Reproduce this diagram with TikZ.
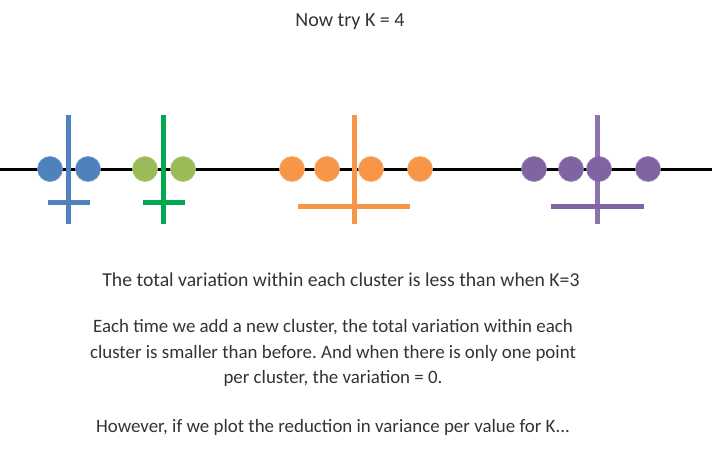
\documentclass[tikz,border=0pt]{standalone}
\usepackage{fontspec}
\setmainfont{Carlito}
\frenchspacing
\definecolor{kblue}{RGB}{79,129,189}
\definecolor{kolive}{RGB}{155,187,89}
\definecolor{kgreen}{RGB}{0,168,80}
\definecolor{korange}{RGB}{247,150,70}
\definecolor{kpurple}{RGB}{128,100,162}
\tikzset{
  pt/.style={circle,fill=#1,draw=#1!80!white,line width=0.6pt,minimum size=25pt,inner sep=0pt},
  bar/.style={draw=#1,line width=5pt},
  txt/.style={font=\fontsize{18.9}{25.5}\selectfont,text=black!80,align=center}
}
\begin{document}
\begin{tikzpicture}[x=1pt,y=-1pt]
	\useasboundingbox (0,0) rectangle (719,463);
	\node [txt,font=\fontsize{20}{24}\selectfont] (title) at (350,22) {Now try K = 4};
	\draw [line width=3pt] (0,169) -- (712,169);
	% blue cluster
	\node [pt=kblue] (b1) at (50,169) {};
	\node [pt=kblue] (b2) at (88,169) {};
	\draw [bar=kblue] (68,115) -- (68,224);
	\draw [bar=kblue] (48,202) -- (90,202);
	% green cluster
	\node [pt=kolive] (g1) at (145,169) {};
	\node [pt=kolive] (g2) at (183,169) {};
	\draw [bar=kgreen] (163,115) -- (163,224);
	\draw [bar=kgreen] (143,202) -- (185,202);
	% orange cluster
	\node [pt=korange] (o1) at (292,169) {};
	\node [pt=korange] (o2) at (327,169) {};
	\node [pt=korange] (o3) at (371,169) {};
	\node [pt=korange] (o4) at (420,169) {};
	\draw [bar=korange] (354,115) -- (354,224);
	\draw [bar=korange] (298,206) -- (410,206);
	% purple cluster
	\node [pt=kpurple] (p1) at (534,169) {};
	\node [pt=kpurple] (p2) at (571,169) {};
	\node [pt=kpurple] (p3) at (599,169) {};
	\node [pt=kpurple] (p4) at (648,169) {};
	\draw [bar=kpurple,opacity=0.9] (597,115) -- (597,224);
	\draw [bar=kpurple] (551,206) -- (644,206);
	% text
	\node [txt,font=\fontsize{19.7}{25.5}\selectfont] (less) at (341,280) {The total variation within each cluster is less than when K=3};
	\node [txt] (each) at (333,353) {Each time we add a new cluster, the total variation within each\\
		cluster is smaller than before. And when there is only one point\\
		per cluster, the variation = 0.};
	\node [txt] (however) at (333,427) {However, if we plot the reduction in variance per value for K...};
\end{tikzpicture}
\end{document}
